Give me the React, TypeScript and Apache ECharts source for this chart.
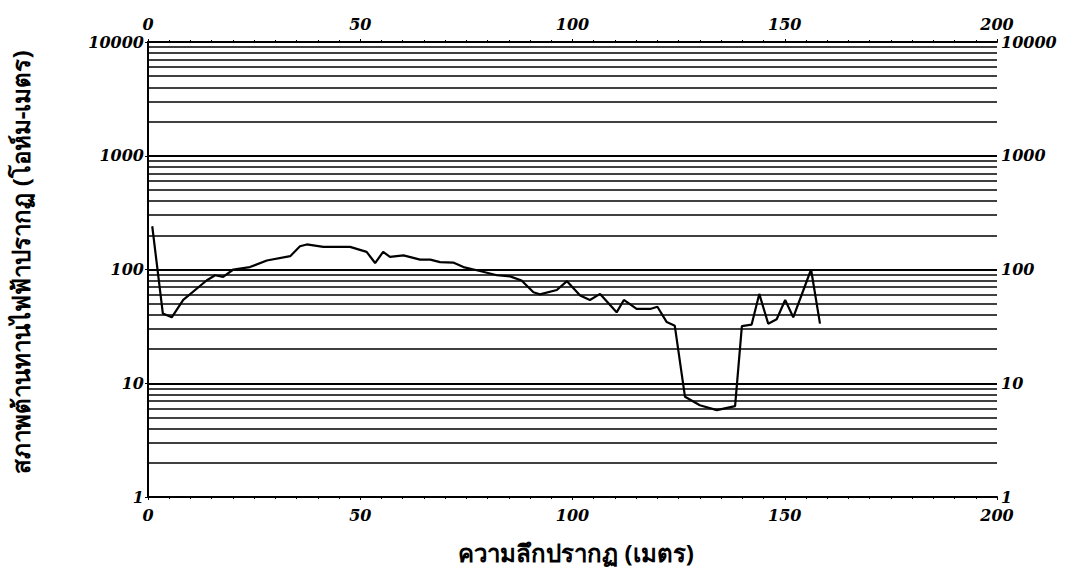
import React, { useEffect, useRef } from "react";
import * as echarts from "echarts";

const depth = [1, 3.5, 5.6, 8.3, 13.8, 15.8, 17.7, 20.1, 24, 28, 33.5, 35.8, 37.4, 41.3, 47.6, 51.5, 53.5, 55.4, 57, 60.2, 64.1, 66.5, 68.8, 71.9, 74.3, 78.2, 82.2, 85.3, 88, 90.8, 92.3, 96.3, 98.7, 101.8, 104.1, 106.5, 110.4, 112.1, 115.1, 118.3, 120, 122.2, 124.1, 126.5, 130, 134, 138.3, 139.9, 142.2, 144, 146.1, 148.1, 150.1, 152, 156.2, 158.3];
const resistivity = [240, 41, 38, 54, 80, 89, 86, 100, 105, 120, 131, 160, 166, 158, 158, 143, 114, 143, 129, 133, 122, 122, 116, 115, 105, 97, 89, 87, 80, 63, 60.5, 66, 79, 59, 54, 61, 42, 54, 45, 45, 47, 34.5, 32, 7.6, 6.4, 5.8, 6.3, 31.8, 32.8, 61, 33.4, 36.5, 54, 38, 100, 33.4];
const minorGrid = [2, 3, 4, 5, 6, 7, 8, 9, 20, 30, 40, 50, 60, 70, 80, 90, 200, 300, 400, 500, 600, 700, 800, 900, 2000, 3000, 4000, 5000, 6000, 7000, 8000, 9000];
const xTitle = "ความลึกปรากฏ (เมตร)";
const yTitle = "สภาพต้านทานไฟฟ้าปรากฏ (โอห์ม-เมตร)";

const tickFont = {
  fontFamily: "DejaVu Serif",
  fontStyle: "italic" as const,
  fontWeight: "bold" as const,
  fontSize: 16,
  color: "#000",
};

export default function App() {
  const ref = useRef<HTMLDivElement>(null);
  useEffect(() => {
    if (!ref.current) return;
    const chart = echarts.init(ref.current, undefined, { renderer: "svg" });
    const xBase = {
      type: "value" as const,
      min: 0,
      max: 200,
      interval: 50,
      axisLine: { show: true, onZero: false, lineStyle: { color: "#000", width: 2 } },
      axisTick: { show: true, length: 3, lineStyle: { color: "#000" } },
      minorTick: { show: true, splitNumber: 10, length: 2, lineStyle: { color: "#000" } },
      splitLine: { show: false },
      axisLabel: { ...tickFont, margin: 10, formatter: (v: number) => String(v) },
    };
    const yBase = {
      type: "log" as const,
      logBase: 10,
      min: 1,
      max: 10000,
      axisLine: { show: true, lineStyle: { color: "#000", width: 2 } },
      axisTick: { show: true, length: 3, lineStyle: { color: "#000" } },
      axisLabel: { ...tickFont, margin: 4, formatter: (v: number) => String(Math.round(v)) },
    };
    chart.setOption({
      animation: false,
      backgroundColor: "#fff",
      grid: { left: 148, right: 72, top: 42, bottom: 79 },
      xAxis: [
        { ...xBase, position: "bottom" },
        { ...xBase, position: "top" },
      ],
      yAxis: [
        { ...yBase, position: "left", splitLine: { show: true, lineStyle: { color: "#000", width: 2 } } },
        { ...yBase, position: "right", splitLine: { show: false } },
      ],
      graphic: [
        {
          type: "text",
          x: 576,
          y: 552,
          style: {
            text: xTitle,
            font: "bold 24px 'Noto Sans', 'DejaVu Sans', sans-serif",
            fill: "#000",
            align: "center",
            verticalAlign: "middle",
          },
        },
        {
          type: "text",
          x: 20,
          y: 262,
          rotation: Math.PI / 2,
          style: {
            text: yTitle,
            font: "bold 24px 'Noto Sans', 'DejaVu Sans', sans-serif",
            fill: "#000",
            align: "center",
            verticalAlign: "middle",
          },
        },
      ],
      series: [
        {
          type: "line",
          xAxisIndex: 0,
          yAxisIndex: 0,
          data: depth.map((d, i) => [d, resistivity[i]]),
          symbol: "none",
          lineStyle: { color: "#000", width: 2.2 },
          markLine: {
            silent: true,
            symbol: "none",
            label: { show: false },
            lineStyle: { color: "#000", width: 1.5, type: "solid" },
            data: minorGrid.map((v) => ({ yAxis: v })),
          },
          z: 3,
        },
      ],
    });
    return () => chart.dispose();
  }, []);
  return <div ref={ref} style={{ width: 1069, height: 576, position: "absolute", left: 0, top: 0 }} />;
}
